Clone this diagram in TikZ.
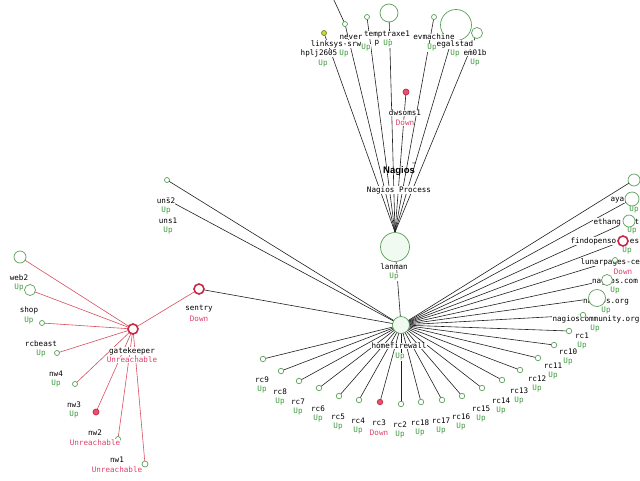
\documentclass[tikz,border=0pt]{standalone}
\usepackage{fontspec}
\setmonofont{DejaVu Sans Mono}
\setsansfont{Liberation Sans}
\usetikzlibrary{backgrounds}
\definecolor{upline}{HTML}{5AA05A}
\definecolor{upfill}{HTML}{FFFFFF}
\definecolor{hubline}{HTML}{5AA05A}
\definecolor{hubfill}{HTML}{F0FAF0}
\definecolor{warnline}{HTML}{6A8A20}
\definecolor{warnfill}{HTML}{C8DC3C}
\definecolor{downline}{HTML}{C82848}
\definecolor{downfill}{HTML}{E85070}
\definecolor{Uptext}{HTML}{3A9A3A}
\definecolor{Downtext}{HTML}{E0406A}
\definecolor{Unreachabletext}{HTML}{E0406A}
\definecolor{linkgray}{HTML}{202020}
\definecolor{gatered}{HTML}{D85060}
\newcommand\hostfont{\fontsize{7.6}{8.5}\selectfont\ttfamily}

\begin{document}
\begin{tikzpicture}[x=1pt,y=-1pt,
  host/.style={circle,inner sep=0pt,minimum size=5pt,draw=#1line,fill=#1fill,line width=0.7pt},
  host/.default=up,
  alarm/.style={circle,inner sep=0pt,minimum size=10pt,draw=downline,fill=white,line width=1.6pt},
  hostname/.style={font=\hostfont,fill=white,inner sep=0.3pt},
  status/.style={font=\hostfont,text=#1text,fill=white,inner sep=0.3pt},
  link/.style={draw=linkgray,line width=0.6pt},
  gatelink/.style={draw=gatered,line width=0.6pt}]
\useasboundingbox (0,0) rectangle (640,480);

% Nagios process and lanman
\node[font=\sffamily\bfseries\fontsize{9.5}{9.5}\selectfont] (logo) at (399,171) {Nagios};
\node[font=\sffamily\fontsize{4}{4}\selectfont] (tm) at (414,164) {\texttrademark};
\node[hostname] (proc) at (399,190) {Nagios Process};
\node[host=hub,minimum size=29pt] (lanman) at (395,247) {};
\node[hostname] (lanman-n) at (394,267) {lanman};
\node[status=Up] (lanman-s) at (394,277) {Up};

% hosts above the process
\node[host] (never) at (345,24) {};
\node[host=warn] (hplj) at (324,33) {};
\node[host] (srw) at (367,17) {};
\node[host,minimum size=18pt] (temp) at (389,13) {};
\node[host] (evm) at (434,17) {};
\node[host,minimum size=31pt] (egal) at (456,25) {};
\node[host,minimum size=11pt] (em) at (477,33) {};
\node[host=down,minimum size=6pt] (dws) at (406,92) {};
\coordinate (never-up) at (333,-2);
\node[hostname] (hplj-n) at (319,53) {hplj2605};
\node[status=Up] (hplj-s) at (323,64) {Up};
\node[hostname] (srw-n) at (336,44) {linksys-srw};
\node[status=Up] (srw-s) at (344,54) {Up};
\node[hostname] (never-n) at (351,37) {never};
\node[status=Up] (never-s) at (366,48) {Up};
\node[hostname] (temp-p) at (377,43) {p};
\node[hostname] (temp-n) at (387,35) {temptraxe1};
\node[status=Up] (temp-s) at (388,44) {Up};
\node[hostname] (evm-n) at (434,37) {evmachine};
\node[status=Up] (evm-s) at (432,48) {Up};
\node[hostname] (egal-n) at (455,44.5) {egalstad};
\node[status=Up] (egal-s) at (455,54) {Up};
\node[hostname] (em-n) at (475,53) {em01b};
\node[status=Up] (em-s) at (475,63) {Up};
\node[hostname] (dws-n) at (405,113) {dwsoms1};
\node[status=Down] (dws-s) at (405,123) {Down};

% homefirewall
\node[host=hub,minimum size=17pt] (hf) at (401,325) {};
\node[hostname] (hf-n) at (399,346) {homefirewall};
\node[status=Up] (hf-s) at (400,357) {Up};

% left side
\node[host] (uns1) at (168,200) {};
\node[hostname] (uns1-n) at (168,221) {uns1};
\node[status=Up] (uns1-s) at (168,231) {Up};
\node[host] (uns2) at (167,180) {};
\node[hostname] (uns2-n) at (166,201) {uns2};
\node[status=Up] (uns2-s) at (166,211) {Up};
\node[alarm] (sentry) at (199,289) {};
\node[hostname] (sentry-n) at (199,309) {sentry};
\node[status=Down] (sentry-s) at (199,319) {Down};
\node[alarm] (gk) at (133,329) {};
\node[hostname] (gk-n) at (132,351) {gatekeeper};
\node[status=Unreachable] (gk-s) at (132,360) {Unreachable};
\node[host,minimum size=6pt] (gkx) at (145,464) {};
\foreach \id/\x/\y/\d/\kind/\st in {shop/30/290/11/up/Up, web2/20/257/12/up/Up,
    rcbeast/42/323/5/up/Up, nw4/57/353/5/up/Up, nw3/75/384/5/up/Up,
    nw1/118/439/5/up/Unreachable, nw2/96/412/6/down/Unreachable}
{
  \node[host=\kind,minimum size=\d pt] (\id) at (\x,\y) {};
  \node[hostname] (\id-n) at (\x-1,\y+20.5) {\id};
  \node[status=\st] (\id-s) at (\x-1,\y+30.5) {\st};
}

% right side
\node[host,minimum size=12pt] (aya) at (634,180) {};
\node[hostname,anchor=west] (aya-n) at (610,200) {aya};
\node[status=Up] (aya-s) at (634,210) {Up};
\node[host,minimum size=14pt] (eth) at (632,199) {};
\node[hostname,anchor=west] (eth-n) at (593,222) {ethang\hphantom{xxx}t};
\node[status=Up] (eth-s) at (632,231) {Up};
\node[host,minimum size=12pt] (fos) at (629,221) {};
\node[hostname,anchor=west] (fos-n) at (570,241) {findopenso\hphantom{xxx}es};
\node[status=Up] (fos-s) at (627,251) {Up};
\node[alarm] (lun) at (623,241) {};
\node[hostname,anchor=west] (lun-n) at (580,262) {lunarpages-ce};
\node[status=Down] (lun-s) at (623,272) {Down};
\node[host] (ngc) at (615,260) {};
\node[hostname] (ngc-n) at (615,281) {nagios.com};
\node[status=Up] (ngc-s) at (615,291) {Up};
\node[host,minimum size=11pt] (ngo) at (607,280) {};
\node[hostname] (ngo-n) at (606,301) {nagios.org};
\node[status=Up] (ngo-s) at (606,311) {Up};
\node[host,minimum size=17pt] (ncm) at (597,298) {};
\node[hostname] (ncm-n) at (596,319) {nagioscommunity.org};
\node[status=Up] (ncm-s) at (595,329) {Up};

% rc ring below homefirewall
\foreach \id/\x/\y/\kind/\st in {rc1/583/315/up/Up, rc10/569/331/up/Up, rc11/554/345/up/Up,
    rc12/538/358/up/Up, rc13/520/370/up/Up, rc14/502/380/up/Up, rc15/482/388/up/Up,
    rc16/462/396/up/Up, rc17/442/400/up/Up, rc18/421/402/up/Up, rc2/401/404/up/Up,
    rc3/380/402/down/Down, rc4/359/400/up/Up, rc5/339/396/up/Up, rc6/319/388/up/Up,
    rc7/299/381/up/Up, rc8/281/371/up/Up, rc9/263/359/up/Up}
{
  \node[host=\kind,minimum size=5.5pt] (\id) at (\x,\y) {};
  \node[hostname] (\id-n) at (\x-1,\y+20.5) {\id};
  \node[status=\st] (\id-s) at (\x-1,\y+30.5) {\st};
}

% connectors under everything
\begin{scope}[on background layer]
\fill[white] (0,0) rectangle (640,480);
\foreach \c in {hplj,never,srw,temp,dws,evm,egal,em}
  \draw[link] (lanman.north) -- (\c.center);
\draw[link] (never.center) -- (never-up);
\foreach \c in {lanman,uns1,uns2,sentry,aya,eth,fos,lun,ngc,ngo,ncm,
    rc1,rc10,rc11,rc12,rc13,rc14,rc15,rc16,rc17,rc18,rc2,rc3,rc4,rc5,rc6,rc7,rc8,rc9}
  \draw[link] (hf.center) -- (\c.center);
\foreach \c in {sentry,web2,shop,rcbeast,nw4,nw3,nw2,nw1,gkx}
  \draw[gatelink] (gk.center) -- (\c.center);
\end{scope}
\end{tikzpicture}
\end{document}
